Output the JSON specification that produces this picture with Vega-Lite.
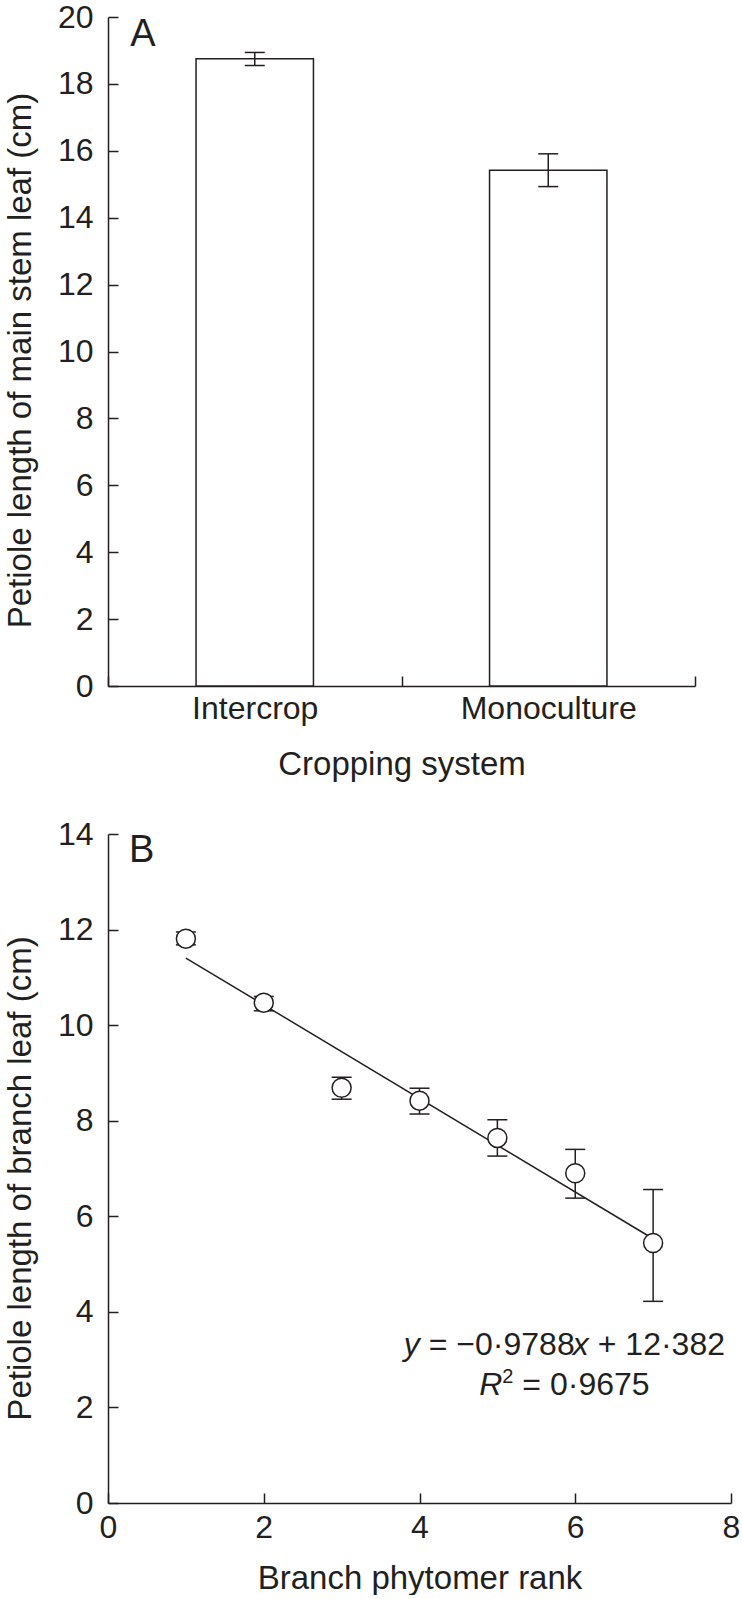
{
  "$schema": "https://vega.github.io/schema/vega-lite/v6.json",
  "background": "white",
  "padding": {"left": 4, "top": 1, "right": 0, "bottom": 0},
  "spacing": 37,
  "datasets": {
    "bars": [
      {"system": "Intercrop", "mean": 18.75, "lo": 18.55, "hi": 18.94},
      {"system": "Monoculture", "mean": 15.42, "lo": 14.93, "hi": 15.91}
    ],
    "ranks": [
      {"rank": 1, "mean": 11.81, "lo": 11.68, "hi": 11.95},
      {"rank": 2, "mean": 10.47, "lo": 10.30, "hi": 10.60},
      {"rank": 3, "mean": 8.69, "lo": 8.45, "hi": 8.91},
      {"rank": 4, "mean": 8.42, "lo": 8.14, "hi": 8.68},
      {"rank": 5, "mean": 7.64, "lo": 7.26, "hi": 8.02},
      {"rank": 6, "mean": 6.90, "lo": 6.38, "hi": 7.40},
      {"rank": 7, "mean": 5.44, "lo": 4.22, "hi": 6.56}
    ],
    "fit": [
      {"rank": 1, "fitted": 11.403},
      {"rank": 7, "fitted": 5.530}
    ]
  },
  "config": {
    "view": {"stroke": null},
    "font": "Liberation Sans",
    "axis": {
      "grid": false,
      "domainColor": "#231f20",
      "domainWidth": 1.5,
      "tickColor": "#231f20",
      "tickWidth": 1.5,
      "tickSize": -10,
      "labelFont": "Liberation Sans",
      "labelFontSize": 32,
      "labelColor": "#231f20",
      "labelPadding": 25,
      "labelOverlap": false,
      "titleFont": "Liberation Sans",
      "titleFontSize": 33,
      "titleFontWeight": "normal",
      "titleColor": "#231f20"
    }
  },
  "vconcat": [
    {
      "width": 587,
      "height": 669,
      "data": {"name": "bars"},
      "layer": [
        {
          "mark": {"type": "bar", "fill": "white", "stroke": "#231f20", "strokeWidth": 1.5, "width": {"band": 0.4}},
          "encoding": {
            "x": {
              "field": "system", "type": "nominal",
              "scale": {"paddingInner": 0, "paddingOuter": 0},
              "axis": {"title": "Cropping system", "labelAngle": 0, "tickBand": "extent", "labelPadding": 17, "titlePadding": 24}
            },
            "y": {
              "field": "mean", "type": "quantitative",
              "scale": {"domain": [0, 20], "nice": false},
              "axis": {"title": "Petiole length of main stem leaf (cm)", "values": [0, 2, 4, 6, 8, 10, 12, 14, 16, 18, 20], "titlePadding": 20, "titleY": 343}
            }
          }
        },
        {
          "mark": {"type": "rule", "stroke": "#231f20", "strokeWidth": 1.5},
          "encoding": {
            "x": {"field": "system", "type": "nominal"},
            "y": {"field": "lo", "type": "quantitative"},
            "y2": {"field": "hi"}
          }
        },
        {
          "mark": {"type": "tick", "orient": "horizontal", "size": 20, "thickness": 1.5, "color": "#231f20", "opacity": 1},
          "encoding": {
            "x": {"field": "system", "type": "nominal"},
            "y": {"field": "lo", "type": "quantitative"}
          }
        },
        {
          "mark": {"type": "tick", "orient": "horizontal", "size": 20, "thickness": 1.5, "color": "#231f20", "opacity": 1},
          "encoding": {
            "x": {"field": "system", "type": "nominal"},
            "y": {"field": "hi", "type": "quantitative"}
          }
        },
        {
          "data": {"values": [{"label": "A"}]},
          "mark": {"type": "text", "align": "left", "baseline": "alphabetic", "fontSize": 38, "color": "#231f20", "dx": -124.5},
          "encoding": {
            "x": {"datum": "Intercrop", "type": "nominal"},
            "y": {"datum": 19.12, "type": "quantitative"},
            "text": {"field": "label"}
          }
        }
      ]
    },
    {
      "width": 623,
      "height": 669,
      "layer": [
        {
          "data": {"name": "fit"},
          "mark": {"type": "line", "color": "#231f20", "strokeWidth": 1.5},
          "encoding": {
            "x": {
              "field": "rank", "type": "quantitative",
              "scale": {"domain": [0, 8], "nice": false},
              "axis": {"title": "Branch phytomer rank", "values": [0, 2, 4, 6, 8], "format": "d", "labelFlush": false, "labelPadding": 19, "titlePadding": 19}
            },
            "y": {
              "field": "fitted", "type": "quantitative",
              "scale": {"domain": [0, 14], "nice": false},
              "axis": {"title": "Petiole length of branch leaf (cm)", "values": [0, 2, 4, 6, 8, 10, 12, 14], "format": "d", "titlePadding": 20, "titleY": 344}
            }
          }
        },
        {
          "data": {"name": "ranks"},
          "mark": {"type": "rule", "stroke": "#231f20", "strokeWidth": 1.5},
          "encoding": {
            "x": {"field": "rank", "type": "quantitative"},
            "y": {"field": "lo", "type": "quantitative"},
            "y2": {"field": "hi"}
          }
        },
        {
          "data": {"name": "ranks"},
          "mark": {"type": "tick", "orient": "horizontal", "size": 20, "thickness": 1.5, "color": "#231f20", "opacity": 1},
          "encoding": {
            "x": {"field": "rank", "type": "quantitative"},
            "y": {"field": "lo", "type": "quantitative"}
          }
        },
        {
          "data": {"name": "ranks"},
          "mark": {"type": "tick", "orient": "horizontal", "size": 20, "thickness": 1.5, "color": "#231f20", "opacity": 1},
          "encoding": {
            "x": {"field": "rank", "type": "quantitative"},
            "y": {"field": "hi", "type": "quantitative"}
          }
        },
        {
          "data": {"name": "ranks"},
          "mark": {"type": "point", "shape": "circle", "filled": true, "fill": "white", "stroke": "#231f20", "strokeWidth": 1.5, "size": 360, "opacity": 1},
          "encoding": {
            "x": {"field": "rank", "type": "quantitative"},
            "y": {"field": "mean", "type": "quantitative"}
          }
        },
        {
          "data": {"values": [{"label": "B"}]},
          "mark": {"type": "text", "align": "left", "baseline": "alphabetic", "fontSize": 38, "color": "#231f20", "dx": 21},
          "encoding": {
            "x": {"datum": 0, "type": "quantitative"},
            "y": {"datum": 13.42, "type": "quantitative"},
            "text": {"field": "label"}
          }
        },
        {
          "data": {"values": [{"label": "y"}]},
          "mark": {"type": "text", "align": "left", "baseline": "alphabetic", "fontSize": 32, "fontStyle": "italic", "color": "#231f20", "dx": -159.7},
          "encoding": {"x": {"datum": 5.85, "type": "quantitative"}, "y": {"datum": 3.10, "type": "quantitative"}, "text": {"field": "label"}}
        },
        {
          "data": {"values": [{"label": "= −0·9788"}]},
          "mark": {"type": "text", "align": "left", "baseline": "alphabetic", "fontSize": 32, "color": "#231f20", "dx": -134.8},
          "encoding": {"x": {"datum": 5.85, "type": "quantitative"}, "y": {"datum": 3.10, "type": "quantitative"}, "text": {"field": "label"}}
        },
        {
          "data": {"values": [{"label": "x"}]},
          "mark": {"type": "text", "align": "left", "baseline": "alphabetic", "fontSize": 32, "fontStyle": "italic", "color": "#231f20", "dx": 9.3},
          "encoding": {"x": {"datum": 5.85, "type": "quantitative"}, "y": {"datum": 3.10, "type": "quantitative"}, "text": {"field": "label"}}
        },
        {
          "data": {"values": [{"label": "+ 12·382"}]},
          "mark": {"type": "text", "align": "left", "baseline": "alphabetic", "fontSize": 32, "color": "#231f20", "dx": 34.2},
          "encoding": {"x": {"datum": 5.85, "type": "quantitative"}, "y": {"datum": 3.10, "type": "quantitative"}, "text": {"field": "label"}}
        },
        {
          "data": {"values": [{"label": "R"}]},
          "mark": {"type": "text", "align": "left", "baseline": "alphabetic", "fontSize": 32, "fontStyle": "italic", "color": "#231f20", "dx": -84.3},
          "encoding": {"x": {"datum": 5.85, "type": "quantitative"}, "y": {"datum": 2.27, "type": "quantitative"}, "text": {"field": "label"}}
        },
        {
          "data": {"values": [{"label": "2"}]},
          "mark": {"type": "text", "align": "left", "baseline": "alphabetic", "fontSize": 20, "color": "#231f20", "dx": -61.2, "dy": -12},
          "encoding": {"x": {"datum": 5.85, "type": "quantitative"}, "y": {"datum": 2.27, "type": "quantitative"}, "text": {"field": "label"}}
        },
        {
          "data": {"values": [{"label": "= 0·9675"}]},
          "mark": {"type": "text", "align": "left", "baseline": "alphabetic", "fontSize": 32, "color": "#231f20", "dx": -41.2},
          "encoding": {"x": {"datum": 5.85, "type": "quantitative"}, "y": {"datum": 2.27, "type": "quantitative"}, "text": {"field": "label"}}
        }
      ]
    }
  ]
}
